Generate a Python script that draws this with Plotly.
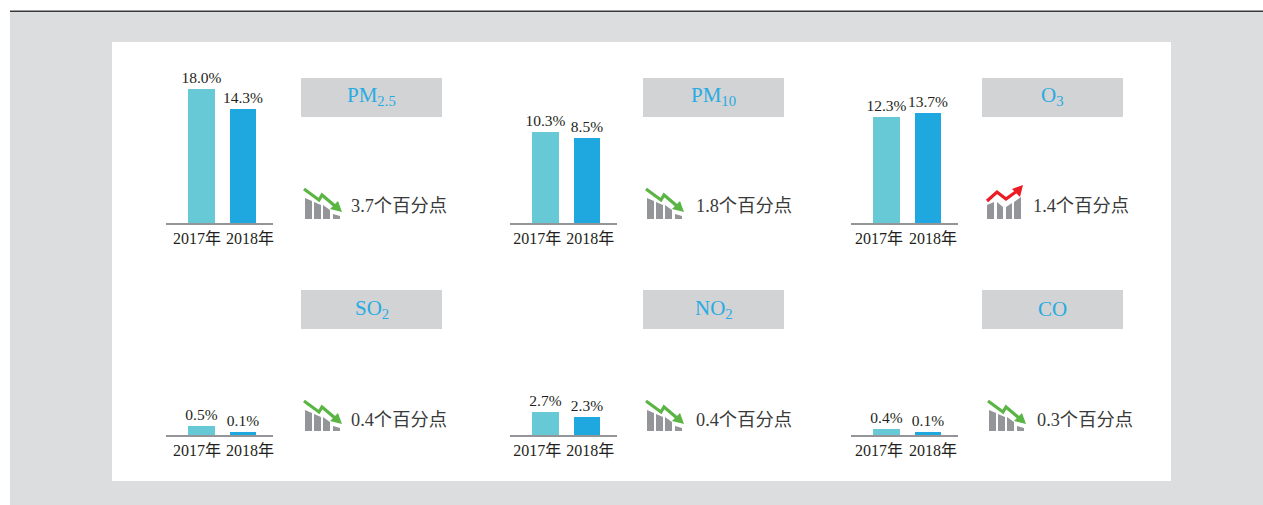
import plotly.graph_objects as go

W, H = 1263, 505
years = ["2017年", "2018年"]
panel_names = ["PM<sub>2.5</sub>", "PM<sub>10</sub>", "O<sub>3</sub>", "SO<sub>2</sub>", "NO<sub>2</sub>", "CO"]
labels_2017 = ["18.0%", "10.3%", "12.3%", "0.5%", "2.7%", "0.4%"]
labels_2018 = ["14.3%", "8.5%", "13.7%", "0.1%", "2.3%", "0.1%"]
# drawn bar heights (the source bars are not to scale with the labels)
heights_2017 = [134, 91, 106, 9, 23, 6]
heights_2018 = [114, 85, 110, 3, 18, 3]
changes = ["3.7个百分点", "1.8个百分点", "1.4个百分点", "0.4个百分点", "0.4个百分点", "0.3个百分点"]
directions = ["down", "down", "up", "down", "down", "down"]

# layout (pixels)
base_x = [166, 510, 851, 166, 510, 851]
base_y = [223, 223, 223, 435, 435, 435]
tick_pos = [[-0.108, 1.169], [-0.2, 1.08], [-0.18, 1.12], [-0.108, 1.169], [-0.2, 1.08], [-0.18, 1.12]]
box_x = [301, 643, 982, 301, 643, 982]
box_y = [78, 78, 78, 290, 290, 290]
icon_x = [304, 646, 986, 304, 646, 988]
icon_dy = [0, 0, 0, 212, 212, 212]
text_x = [351, 696, 1033, 351, 696, 1037]
text_y = [206, 206, 206, 420, 420, 420]

SERIF = "Liberation Serif, Noto Sans CJK SC, serif"
INK = "#231f20"
BLUE = "#29abe2"


def px(x):
    return x / W


def py(y):
    return 1 - y / H


def rect(x0, y0, x1, y1, color):
    return dict(type="rect", xref="paper", yref="paper", x0=px(x0), x1=px(x1), y0=py(y1), y1=py(y0),
                fillcolor=color, line=dict(width=0), layer="below")


def path(points, fill=None, line=None, width=0):
    d = "M" + " L".join(f"{px(x):.5f},{py(y):.5f}" for x, y in points)
    if fill:
        d += " Z"
    s = dict(type="path", xref="paper", yref="paper", path=d, layer="above",
             line=dict(width=width, color=line or "rgba(0,0,0,0)"))
    if fill:
        s["fillcolor"] = fill
    return s


def icon(x, dy, direction):
    g = "#939598"
    out = []
    if direction == "down":
        for a, b, t0, t1 in [(305, 312, 198, 201), (314, 321, 202, 205), (323, 330, 205, 210), (333, 340, 214, 216)]:
            s = a - 304
            e = b - 304
            out.append(path([(x + s, t0 + dy), (x + e, t1 + dy), (x + e, 219 + dy), (x + s, 219 + dy)], fill=g))
        pts = [(0, 189), (15, 200), (18, 195), (31, 206)]
        out.append(path([(x + p, q + dy) for p, q in pts], line="#5bb544", width=3.2))
        out.append(path([(x + 38, 212 + dy), (x + 26, 209 + dy), (x + 34, 201 + dy)], fill="#5bb544"))
    else:
        for a, b, t0, t1 in [(1, 8, 205, 202), (11, 17, 202, 207), (20, 26, 207, 203), (28, 35, 202, 197)]:
            out.append(path([(x + a, t0 + dy), (x + b, t1 + dy), (x + b, 219 + dy), (x + a, 219 + dy)], fill=g))
        pts = [(1, 201), (11, 192), (20, 199), (31, 191)]
        out.append(path([(x + p, q + dy) for p, q in pts], line="#ed1c24", width=3.2))
        out.append(path([(x + 37, 185 + dy), (x + 34, 197 + dy), (x + 26, 189 + dy)], fill="#ed1c24"))
    return out


fig = go.Figure()
shapes = [
    rect(10, 12, 1263, 505, "#dcddde"),
    rect(10, 10.5, 1263, 12, "#3a3a3c"),
    rect(112, 42, 1171, 481, "#ffffff"),
]
annotations = []
layout_axes = {}

for i in range(6):
    n = i + 1
    xn = "x" if i == 0 else f"x{n}"
    yn = "y" if i == 0 else f"y{n}"
    xa = "xaxis" if i == 0 else f"xaxis{n}"
    ya = "yaxis" if i == 0 else f"yaxis{n}"
    x0, y0 = base_x[i], base_y[i]
    top = y0 - 150
    fig.add_trace(go.Bar(
        x=[0, 1], y=[heights_2017[i], heights_2018[i]],
        xaxis=xn, yaxis=yn, width=0.65,
        marker=dict(color=["#68c9d6", "#1fa8df"], line=dict(width=0)),
        text=[labels_2017[i], labels_2018[i]], textposition="outside", cliponaxis=False,
        constraintext="none", textangle=0,
        textfont=dict(family=SERIF, size=15.5, color=INK), hoverinfo="skip", showlegend=False,
    ))
    layout_axes[xa] = dict(
        domain=[px(x0), px(x0 + 107)], range=[-35.5 / 41.5, 71.5 / 41.5], type="linear",
        tickmode="array", tickvals=tick_pos[i], ticktext=years,
        anchor=yn, showgrid=False, zeroline=False, showline=True, linecolor="#939598", linewidth=1.5,
        ticks="", tickangle=0, tickfont=dict(family=SERIF, size=16, color=INK), ticklen=0, automargin=False,
    )
    layout_axes[ya] = dict(
        domain=[py(y0), py(top)], range=[0, 150], anchor=xn, visible=False, fixedrange=True,
    )
    shapes.append(rect(box_x[i], box_y[i], box_x[i] + 141, box_y[i] + 39, "#d1d3d4"))
    annotations.append(dict(
        x=px(box_x[i] + 70.5), y=py(box_y[i] + 18.5), xref="paper", yref="paper", text=panel_names[i],
        showarrow=False, xanchor="center", yanchor="middle", font=dict(family=SERIF, size=21, color=BLUE),
    ))
    annotations.append(dict(
        x=px(text_x[i]), y=py(text_y[i]), xref="paper", yref="paper", text=changes[i],
        showarrow=False, xanchor="left", yanchor="middle", xshift=-2,
        font=dict(family=SERIF, size=18.3, color="#3a3a3a"),
    ))
    shapes.extend(icon(icon_x[i], icon_dy[i], directions[i]))

fig.update_layout(
    width=W, height=H, margin=dict(l=0, r=0, t=0, b=0, autoexpand=False), paper_bgcolor="#ffffff", plot_bgcolor="rgba(0,0,0,0)",
    shapes=shapes, annotations=annotations, showlegend=False, bargap=0, **layout_axes,
)
fig.write_html("out.html", config={"displayModeBar": False},
               post_script="document.body.style.margin='0';document.documentElement.style.overflow='hidden';")
